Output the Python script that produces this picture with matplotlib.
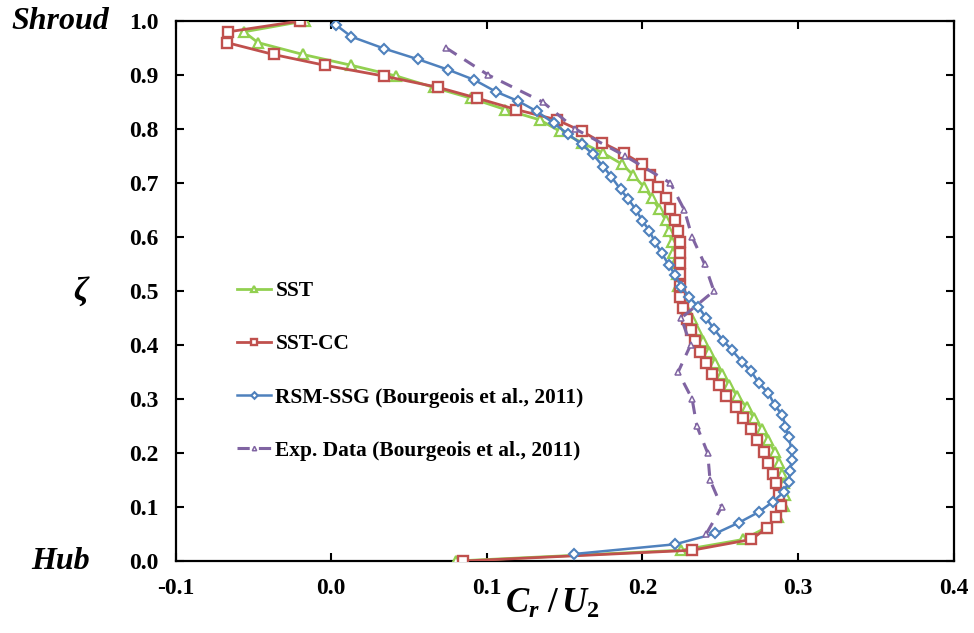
import matplotlib
matplotlib.use("Agg")
import matplotlib.pyplot as plt
from matplotlib.ticker import FormatStrFormatter, MultipleLocator

plt.rcParams['font.family'] = ['Liberation Serif', 'DejaVu Serif']
plt.rcParams['font.weight'] = 'bold'
plt.rcParams['mathtext.fontset'] = 'custom'
plt.rcParams['mathtext.it'] = 'Liberation Serif:italic:bold'
plt.rcParams['mathtext.rm'] = 'Liberation Serif:bold'

# CFD grid
zeta_cfd = [1.0, 0.98, 0.96, 0.938, 0.918, 0.898, 0.877, 0.857, 0.836, 0.817,
            0.796, 0.775, 0.755, 0.735, 0.715, 0.693, 0.673, 0.651, 0.631, 0.612,
            0.591, 0.571, 0.551, 0.531, 0.510, 0.489, 0.469, 0.448, 0.428, 0.408,
            0.388, 0.367, 0.346, 0.326, 0.306, 0.285, 0.264, 0.244, 0.224, 0.202,
            0.182, 0.162, 0.144, 0.122, 0.102, 0.081, 0.061, 0.040, 0.020, 0.0]

sst = [-0.017, -0.056, -0.047, -0.018, 0.013, 0.042, 0.066, 0.090, 0.112, 0.134,
       0.147, 0.161, 0.175, 0.187, 0.194, 0.201, 0.206, 0.211, 0.215, 0.217,
       0.219, 0.220, 0.221, 0.222, 0.223, 0.225, 0.228, 0.232, 0.235, 0.239,
       0.243, 0.247, 0.251, 0.256, 0.261, 0.267, 0.272, 0.277, 0.281, 0.285,
       0.288, 0.290, 0.291, 0.292, 0.291, 0.287, 0.279, 0.265, 0.225, 0.080]

sst_cc = [-0.020, -0.066, -0.067, -0.037, -0.004, 0.034, 0.069, 0.094, 0.119, 0.145,
          0.161, 0.174, 0.188, 0.200, 0.205, 0.210, 0.215, 0.218, 0.221, 0.223,
          0.224, 0.224, 0.224, 0.224, 0.224, 0.224, 0.226, 0.229, 0.231, 0.234,
          0.237, 0.241, 0.245, 0.249, 0.254, 0.260, 0.265, 0.270, 0.274, 0.278,
          0.281, 0.284, 0.286, 0.288, 0.289, 0.286, 0.280, 0.270, 0.232, 0.085]

zeta_rsm = [0.993, 0.971, 0.949, 0.929, 0.910, 0.891, 0.869, 0.852, 0.833, 0.811,
            0.791, 0.772, 0.754, 0.730, 0.712, 0.688, 0.670, 0.650, 0.630, 0.612,
            0.591, 0.570, 0.548, 0.530, 0.508, 0.489, 0.471, 0.450, 0.430, 0.408,
            0.391, 0.369, 0.351, 0.329, 0.311, 0.289, 0.270, 0.249, 0.229, 0.206,
            0.187, 0.167, 0.147, 0.128, 0.110, 0.091, 0.071, 0.051, 0.031, 0.013]
rsm = [0.003, 0.013, 0.034, 0.056, 0.075, 0.092, 0.106, 0.120, 0.132, 0.143,
       0.152, 0.161, 0.168, 0.175, 0.180, 0.186, 0.191, 0.196, 0.200, 0.2045,
       0.208, 0.2125, 0.217, 0.221, 0.225, 0.230, 0.236, 0.241, 0.246, 0.252,
       0.2575, 0.264, 0.270, 0.275, 0.281, 0.285, 0.290, 0.292, 0.294, 0.296,
       0.296, 0.295, 0.294, 0.291, 0.284, 0.275, 0.262, 0.247, 0.221, 0.156]

zeta_exp = [0.95, 0.90, 0.85, 0.80, 0.75, 0.70, 0.65, 0.60, 0.55, 0.50,
            0.45, 0.40, 0.35, 0.30, 0.25, 0.20, 0.15, 0.10, 0.05]
exp = [0.074, 0.101, 0.136, 0.157, 0.189, 0.218, 0.227, 0.232, 0.240, 0.246,
       0.225, 0.231, 0.223, 0.232, 0.235, 0.242, 0.2435, 0.251, 0.241]

fig = plt.figure(figsize=(9.74, 6.33), dpi=100)
ax = fig.add_axes([0.1802, 0.1137, 0.7988, 0.8531])

ax.plot(sst, zeta_cfd, color='#92d050', lw=2, marker='^', ms=7, mew=1.6,
        mfc='white', label='SST', zorder=3)
ax.plot(sst_cc, zeta_cfd, color='#c0504d', lw=2, marker='s', ms=7, mew=1.7,
        mfc='white', label='SST-CC', zorder=4)
ax.plot(rsm, zeta_rsm, color='#4f81bd', lw=1.8, marker='D', ms=4.8, mew=1.5,
        mfc='white', label='RSM-SSG (Bourgeois et al., 2011)', zorder=5)
ax.plot(exp, zeta_exp, color='#8064a2', lw=2.2, dashes=(4, 3), marker='^', ms=4.5,
        mew=1.1, mfc='white', label='Exp. Data (Bourgeois et al., 2011)', zorder=6)

ax.set_xlim(-0.1, 0.4)
ax.set_ylim(0, 1)
ax.xaxis.set_major_locator(MultipleLocator(0.1))
ax.yaxis.set_major_locator(MultipleLocator(0.1))
ax.xaxis.set_major_formatter(FormatStrFormatter('%.1f'))
ax.yaxis.set_major_formatter(FormatStrFormatter('%.1f'))
ax.tick_params(direction='in', length=6, width=1.5, labelsize=17,
               top=True, right=True, labeltop=False, labelright=False)
ax.tick_params(axis='y', pad=12)
ax.tick_params(axis='x', pad=12)
for s in ax.spines.values():
    s.set_linewidth(1.6)

tr = ax.get_yaxis_transform()
ax.text(-0.148, 1.0, 'Shroud', transform=tr, fontsize=23, style='italic',
        ha='center', va='center')
ax.text(-0.148, 0.0, 'Hub', transform=tr, fontsize=23, style='italic',
        ha='center', va='center')
ax.text(-0.12, 0.5, r'$\zeta$', transform=tr, fontsize=24, ha='center', va='center')
ax.text(0.485, -0.08, r'$C_r\ /\,U_2$', transform=ax.transAxes, fontsize=25,
        ha='center', va='center')

ax.legend(loc='center left', bbox_to_anchor=(0.079, 0.352), frameon=False,
          fontsize=15.4, handlelength=1.6, handletextpad=0.2, labelspacing=1.55,
          borderpad=0, borderaxespad=0, markerscale=0.7)

fig.savefig('out.png', dpi=100)
